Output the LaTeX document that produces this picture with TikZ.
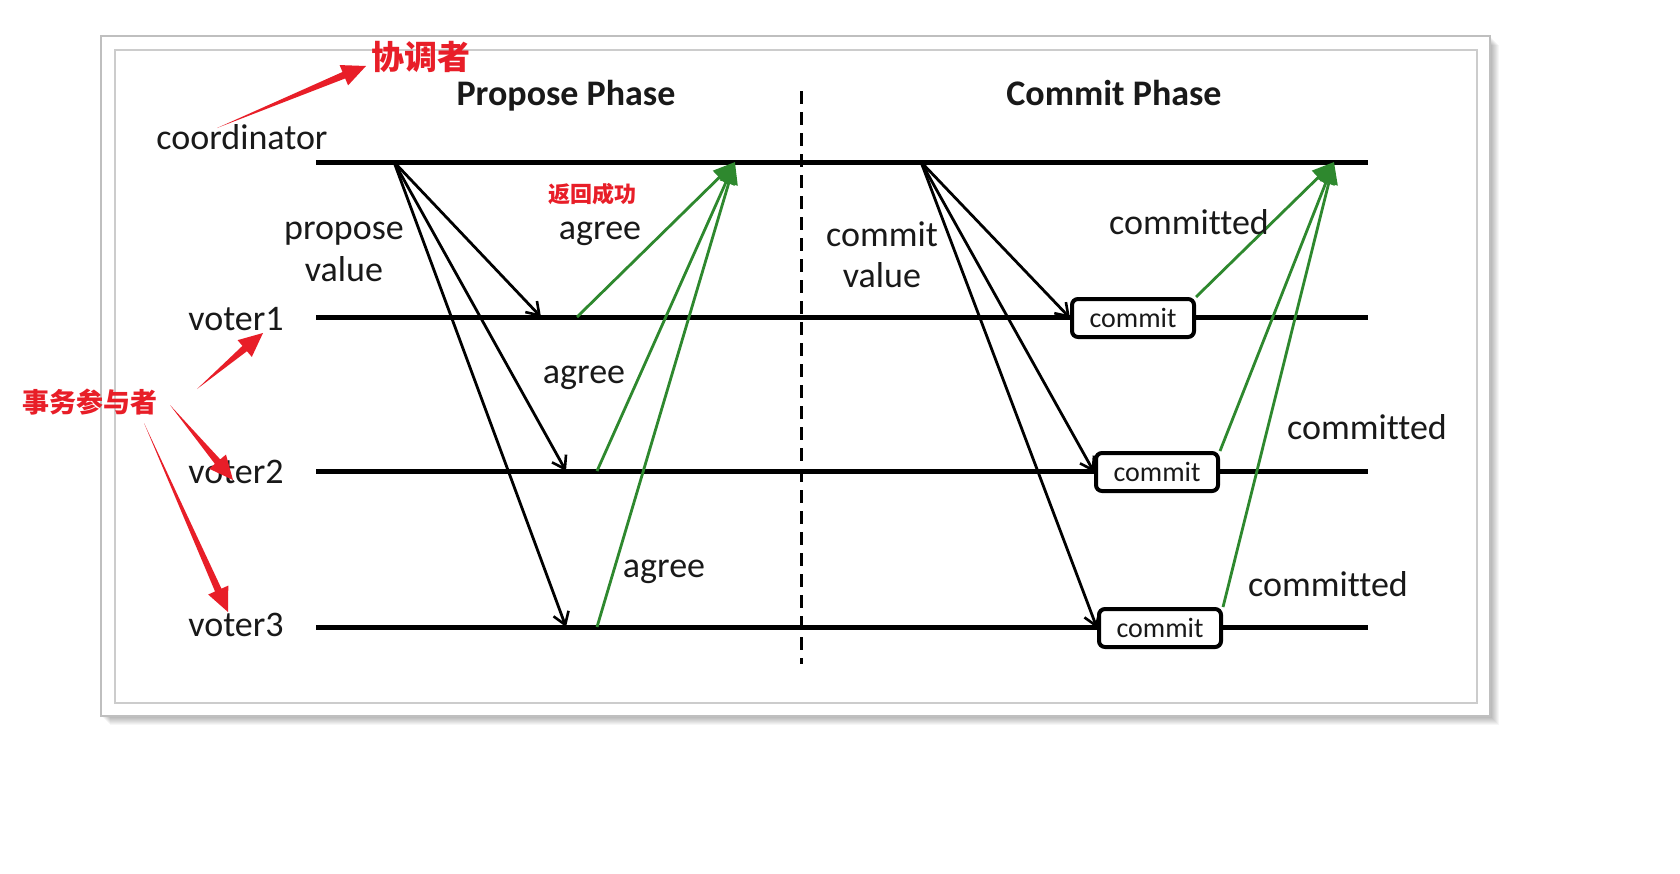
\documentclass[tikz,border=0pt]{standalone}
\usepackage{fontspec}
\setmainfont{Carlito}[Ligatures=NoCommon]
\newfontfamily\cjk{Noto Sans CJK SC}
\usetikzlibrary{arrows.meta,calc}
\definecolor{ackgreen}{RGB}{46,136,46}
\definecolor{annred}{RGB}{232,30,40}
\definecolor{txt}{RGB}{25,25,25}
\newcommand\fatarrow[2]{%
  \fill[annred] (#1) -- ($(#2)!24pt!(#1)!3.5pt!90:(#1)$) -- ($(#2)!24pt!(#1)!11pt!90:(#1)$) -- (#2)
    -- ($(#2)!24pt!(#1)!11pt!-90:(#1)$) -- ($(#2)!24pt!(#1)!3.5pt!-90:(#1)$) -- cycle;}
\begin{document}
\begin{tikzpicture}[x=1pt,y=-1pt,
  lane/.style={line width=5pt},
  msg/.style={line width=2.8pt,-{Straight Barb[length=12pt,width=16pt,line width=2.6pt]}},
  ack/.style={line width=2.8pt,draw=ackgreen,-{Triangle[length=22pt,width=18pt]}},
  lbl/.style={font=\fontsize{36}{40}\selectfont, text=txt, inner sep=0pt},
  phase/.style={lbl, font=\fontsize{36}{40}\selectfont\bfseries},
  cbox/.style={draw, line width=4pt, rounded corners=6pt, fill=white, minimum width=122pt,
    minimum height=38pt, inner sep=0pt, text=txt, font=\fontsize{28}{30}\selectfont},
  note/.style={text=annred, inner sep=0pt},
]
\useasboundingbox (0,0) rectangle (1680,873);
\fill[white] (0,0) rectangle (1680,873);
% frame with shadow
\foreach \k in {1,...,9} {\fill[black,opacity=0.035] (101+\k,36+\k) rectangle (1490+\k,716+\k);}
\draw[draw=black!25, line width=2pt, fill=white] (101,36) rectangle (1490,716);
\draw[draw=black!20, line width=2pt] (115,50) rectangle (1477,703);

% phase titles and divider
\node[phase] (pp) at (566,96) {Propose Phase};
\node[phase] (cp) at (1114,93) {Commit Phase};
\coordinate (dtop) at (801,91);
\coordinate (dbot) at (801,664);
\draw[line width=3pt, dash pattern=on 13pt off 8pt] (dtop) -- (dbot);

% lanes
\node[lbl] (coord) at (242,137) {coordinator};
\node[lbl] (v1) at (236,319) {voter1};
\node[lbl] (v2) at (236,472) {voter2};
\node[lbl] (v3) at (236,625) {voter3};
\coordinate (c0) at (316,162);  \coordinate (c1) at (1368,162);
\coordinate (a0) at (316,317);  \coordinate (a1) at (1368,317);
\coordinate (b0) at (316,471);  \coordinate (b1) at (1368,471);
\coordinate (d0) at (316,627);  \coordinate (d1) at (1368,627);
\draw[lane] (c0) -- (c1);
\draw[lane] (a0) -- (a1);
\draw[lane] (b0) -- (b1);
\draw[lane] (d0) -- (d1);

% propose phase
\coordinate (ps) at (394,162);
\coordinate (pa) at (541,317);
\coordinate (pb) at (566,471);
\coordinate (pc) at (566,627);
\draw[msg] (ps) -- (pa);
\draw[msg] (ps) -- (pb);
\draw[msg] (ps) -- (pc);
\coordinate (ga) at (577,317);
\coordinate (gb) at (597,471);
\coordinate (gc) at (597,627);
\coordinate (gt) at (735,162);
\draw[ack] (ga) -- (gt);
\draw[ack] (gb) -- (gt);
\draw[ack] (gc) -- (gt);
\node[lbl] (prop) at (344,234) {propose};
\node[lbl] (pval) at (344,269) {value};
\node[lbl] (ag1) at (600,234) {agree};
\node[lbl] (ag2) at (584,378) {agree};
\node[lbl] (ag3) at (664,572) {agree};

% commit phase
\node[cbox] (k1) at (1133,318) {commit};
\node[cbox] (k2) at (1157,472) {commit};
\node[cbox] (k3) at (1160,628) {commit};
\coordinate (cs) at (921,162);
\draw[msg] (cs) -- (k1.west);
\draw[msg] (cs) -- (k2.west);
\draw[msg] (cs) -- (k3.west);
\coordinate (ct) at (1334,162);
\draw[ack] (k1.north east) -- (ct);
\draw[ack] (k2.north east) -- (ct);
\draw[ack] (k3.north east) -- (ct);
\node[lbl] (cm) at (882,234) {commit};
\node[lbl] (cv) at (882,275) {value};
\node[lbl] (cd1) at (1189,222) {committed};
\node[lbl] (cd2) at (1367,427) {committed};
\node[lbl] (cd3) at (1328,584) {committed};

% annotations
\node[note, font=\cjk\bfseries\fontsize{22}{24}\selectfont] (ok) at (592,194) {返回成功};
\node[note, font=\cjk\bfseries\fontsize{33}{36}\selectfont] (xtz) at (421,57) {协调者};
\node[note, font=\cjk\bfseries\fontsize{27}{30}\selectfont] (part) at (90,402) {事务参与者};
\coordinate (r0s) at (217,128); \coordinate (r0e) at (366,66);
\coordinate (r1s) at (197,389); \coordinate (r1e) at (263,333);
\coordinate (r2s) at (170,405); \coordinate (r2e) at (233,480);
\coordinate (r3s) at (144,423); \coordinate (r3e) at (228,612);
\fatarrow{r0s}{r0e}
\fatarrow{r1s}{r1e}
\fatarrow{r2s}{r2e}
\fatarrow{r3s}{r3e}
\end{tikzpicture}
\end{document}
